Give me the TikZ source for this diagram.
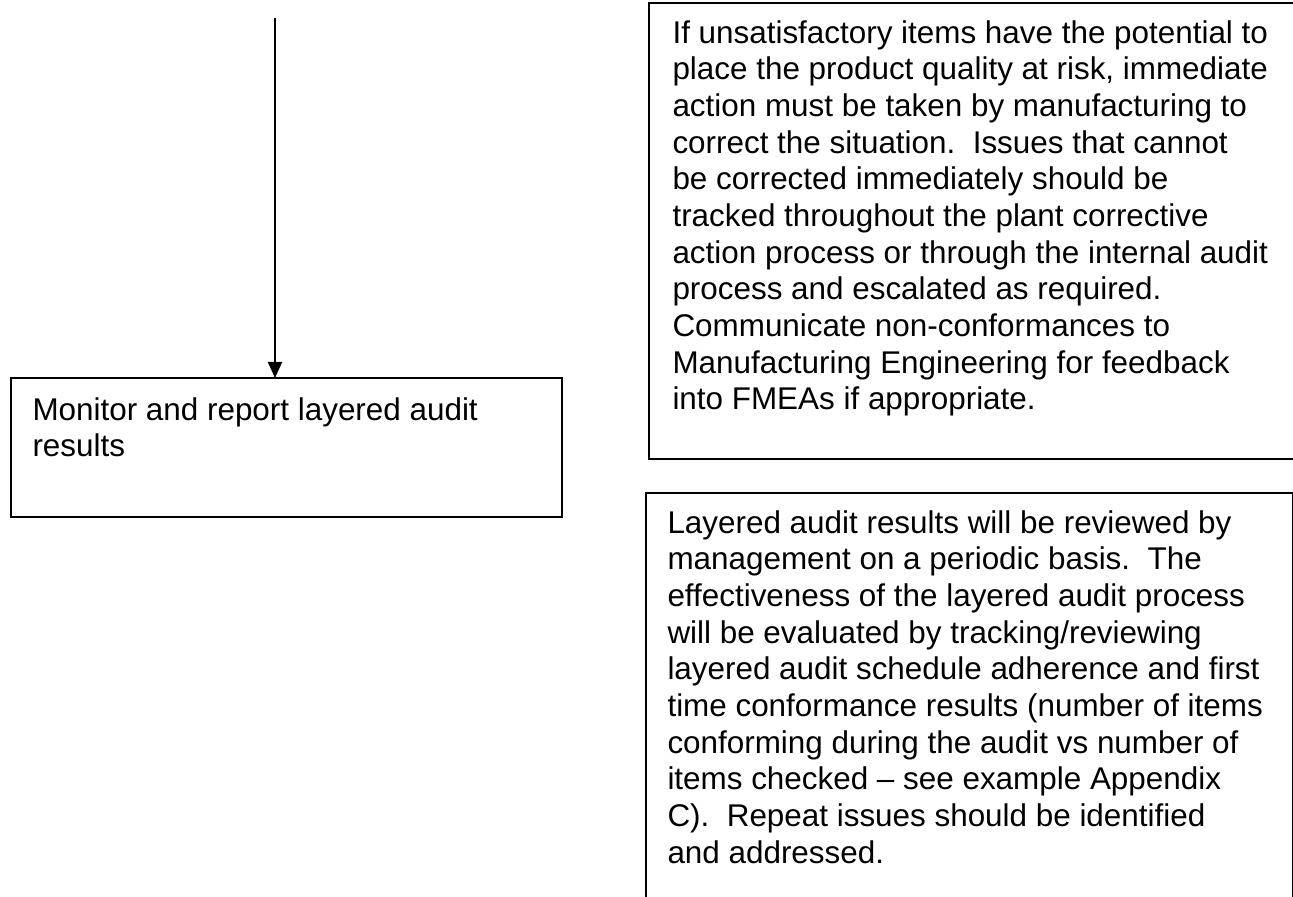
\documentclass[tikz,border=0pt]{standalone}
\usepackage{fontspec}
\setmainfont{Liberation Sans}
\usetikzlibrary{arrows.meta}

\tikzset{
  box/.style={draw, line width=0.8pt, inner sep=0pt, outer sep=0pt},
  boxtext/.style={anchor=north west, align=left, inner sep=0pt,
    font=\fontsize{12pt}{14pt}\selectfont},
  flow/.style={-{Triangle[width=5.4pt,length=6.2pt]}, line width=0.8pt}
}

\begin{document}
\begin{tikzpicture}[x=0.382pt,y=-0.382pt]
  \useasboundingbox (0,0) rectangle (1293,897);
  % boxes
  \node[box, minimum width=210.5pt, minimum height=53.1pt] (monitor) at (286.5,447.5) {};
  \node[box, minimum width=248.7pt, minimum height=174.2pt] (action) at (974.5,231) {};
  \node[box, minimum width=247.0pt, minimum height=163.1pt] (review) at (969.25,706.5) {};
  % texts
  \node[boxtext] (monitortext) at (32,397) {Monitor and report layered audit\\results};
  \node[boxtext] (actiontext) at (672,20) {If unsatisfactory items have the potential to\\
    place the product quality at risk, immediate\\
    action must be taken by manufacturing to\\
    correct the situation.\ \ Issues that cannot\\
    be corrected immediately should be\\
    tracked throughout the plant corrective\\
    action process or through the internal audit\\
    process and escalated as required.\\
    Communicate non-conformances to\\
    Manufacturing Engineering for feedback\\
    into FMEAs if appropriate.};
  \node[boxtext] (reviewtext) at (667,510) {Layered audit results will be reviewed by\\
    management on a periodic basis.\ \ The\\
    effectiveness of the layered audit process\\
    will be evaluated by tracking/reviewing\\
    layered audit schedule adherence and first\\
    time conformance results (number of items\\
    conforming during the audit vs number of\\
    items checked -- see example Appendix\\
    C).\ \ Repeat issues should be identified\\
    and addressed.};
  % incoming arrow
  \coordinate (in) at (275,18);
  \draw[flow] (in) -- (in |- monitor.north);
\end{tikzpicture}
\end{document}
